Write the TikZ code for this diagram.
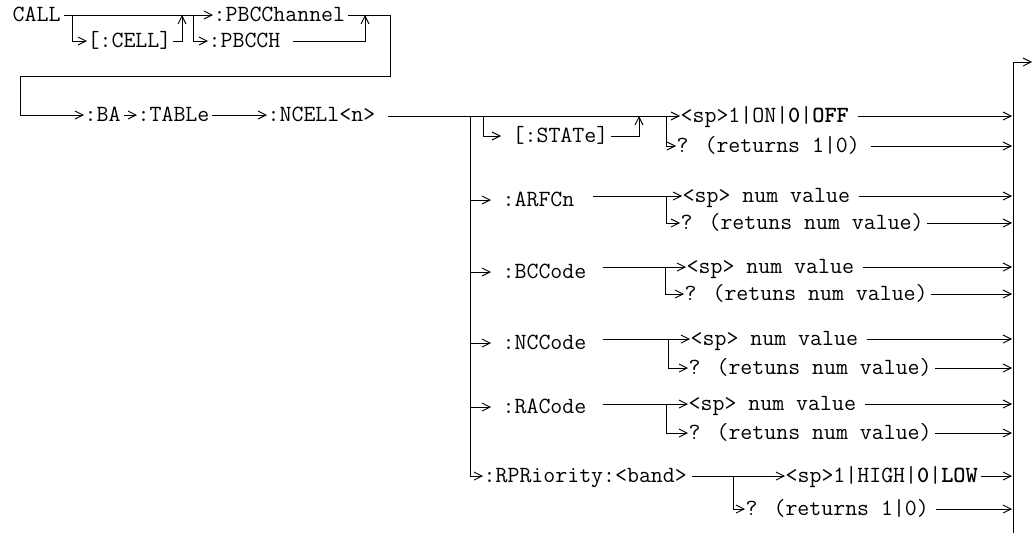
\documentclass[tikz,border=0pt]{standalone}
\usepackage{fontspec}
\usetikzlibrary{arrows.meta}
\begin{document}
\begin{tikzpicture}[x=1pt,y=-1pt,
  lbl/.style={anchor=west,inner xsep=0.5pt,inner ysep=0pt,text height=12pt,text depth=0pt,font=\ttfamily\fontsize{23.2}{26}\selectfont},
  ln/.style={line width=0.9pt},
  ar/.style={ln,-{Straight Barb[length=8pt,width=8pt,line width=0.9pt]}}]
\useasboundingbox (0,0) rectangle (1034,533);
% ---------- top part
\node[lbl] (call) at (12,15) {CALL};
\node[lbl] (pbcchannel) at (213,15) {:PBCChannel};
\node[lbl] (cell) at (87,41) {[:CELL]};
\node[lbl] (pbcch) at (208,41) {:PBCCH};
\coordinate (b1) at (72,15);
\coordinate (m1) at (182,15);
\coordinate (b2) at (193,15);
\coordinate (m2) at (365,15);
\coordinate (c1) at (390,15);
\coordinate (c2) at (390,76);
\coordinate (c3) at (20,76);
\draw[ar] ([xshift=3pt]call.east) -- (pbcchannel.west);
\draw[ar] (b1) |- (cell.west);
\draw[ar] ([xshift=1pt]cell.east) -| (m1);
\draw[ar] (b2) |- (pbcch.west);
\draw[ar] ([xshift=12pt]pbcch.east) -| (m2);
% ---------- main row
\node[lbl] (ba) at (84,115) {:BA};
\node[lbl] (tab) at (137,115) {:TABLe};
\node[lbl] (ncell) at (267,115) {:NCELl<n>};
\draw[ar] ([xshift=2pt]pbcchannel.east) -- (c1) -- (c2) -- (c3) |- (ba.west);
\draw[ar] ([xshift=3pt]ba.east) -- (tab.west);
\draw[ar] ([xshift=2pt]tab.east) -- (ncell.west);
% right collector
\coordinate (R) at (1012,0);
\coordinate (Rtop) at (1013,62);
\coordinate (Rbot) at (1013,533);
\coordinate (Rout) at (1032,62);
\draw[ln] (Rbot) -- (Rtop);
\draw[ar] (Rtop) -- (Rout);
% ---------- STATe group
\node[lbl] (st1) at (680,116) {<sp>1|ON|\textbf{0}|\textbf{OFF}};
\node[lbl] (state) at (512,136) {[:STATe]};
\node[lbl] (stq) at (676,146) {? (returns 1|0)};
\coordinate (b3) at (483,116);
\coordinate (m3) at (639,116);
\coordinate (q0) at (666,116);
\draw[ar] ([xshift=12pt]ncell.east |- st1.west) -- (st1.west);
\draw[ar] (b3) |- ([xshift=-11pt]state.west);
\draw[ar] ([xshift=2pt]state.east) -| (m3);
\draw[ar] (q0) |- (stq.west);
\draw[ar] ([xshift=8pt]st1.east) -- (st1.east -| R);
\draw[ar] ([xshift=10pt]stq.east) -- (stq.east -| R);
% ---------- main vertical
\coordinate (v0) at (470,116);
\node[lbl] (rpr) at (483,476) {:RPRiority:<band>};
\draw[ar] (v0) |- (rpr.west);
% ---------- ARFCn
\node[lbl] (arfcn) at (502,200) {:ARFCn};
\node[lbl] (asp) at (682,196) {<sp> num value};
\node[lbl] (aq) at (680,223) {? (retuns num value)};
\coordinate (qa) at (666,196);
\draw[ar] (arfcn.west -| v0) -- ([xshift=-11pt]arfcn.west);
\draw[ar] ([xshift=18pt]arfcn.east |- asp.west) -- (asp.west);
\draw[ar] (qa) |- (aq.west);
\draw[ar] ([xshift=8pt]asp.east) -- (asp.east -| R);
\draw[ar] ([xshift=3pt]aq.east) -- (aq.east -| R);
% ---------- BCCode
\node[lbl] (bcc) at (502,272) {:BCCode};
\node[lbl] (bsp) at (686,267) {<sp> num value};
\node[lbl] (bq) at (684,294) {? (retuns num value)};
\coordinate (qb) at (665,267);
\draw[ar] (bcc.west -| v0) -- ([xshift=-11pt]bcc.west);
\draw[ar] ([xshift=16pt]bcc.east |- bsp.west) -- (bsp.west);
\draw[ar] (qb) |- (bq.west);
\draw[ar] ([xshift=8pt]bsp.east) -- (bsp.east -| R);
\draw[ar] ([xshift=3pt]bq.east) -- (bq.east -| R);
% ---------- NCCode
\node[lbl] (ncc) at (502,343) {:NCCode};
\node[lbl] (nsp) at (690,339) {<sp> num value};
\node[lbl] (nq) at (688,368) {? (retuns num value)};
\coordinate (qn) at (668,339);
\draw[ar] (ncc.west -| v0) -- ([xshift=-11pt]ncc.west);
\draw[ar] ([xshift=16pt]ncc.east |- nsp.west) -- (nsp.west);
\draw[ar] (qn) |- (nq.west);
\draw[ar] ([xshift=8pt]nsp.east) -- (nsp.east -| R);
\draw[ar] ([xshift=3pt]nq.east) -- (nq.east -| R);
% ---------- RACode
\node[lbl] (rac) at (502,407) {:RACode};
\node[lbl] (rsp) at (688,404) {<sp> num value};
\node[lbl] (rq) at (688,433) {? (retuns num value)};
\coordinate (qr) at (666,404);
\draw[ar] (rac.west -| v0) -- ([xshift=-11pt]rac.west);
\draw[ar] ([xshift=16pt]rac.east |- rsp.west) -- (rsp.west);
\draw[ar] (qr) |- (rq.west);
\draw[ar] ([xshift=8pt]rsp.east) -- (rsp.east -| R);
\draw[ar] ([xshift=3pt]rq.east) -- (rq.east -| R);
% ---------- RPRiority
\node[lbl] (psp) at (785,476) {<sp>1|HIGH|\textbf{0}|\textbf{LOW}};
\node[lbl] (pq) at (745,509) {? (returns 1|0)};
\coordinate (qp) at (733,476);
\draw[ar] ([xshift=4pt]rpr.east) -- (psp.west);
\draw[ar] (qp) |- (pq.west);
\draw[ar] ([xshift=2pt]psp.east) -- (psp.east -| R);
\draw[ar] ([xshift=6pt]pq.east) -- (pq.east -| R);
\end{tikzpicture}
\end{document}
